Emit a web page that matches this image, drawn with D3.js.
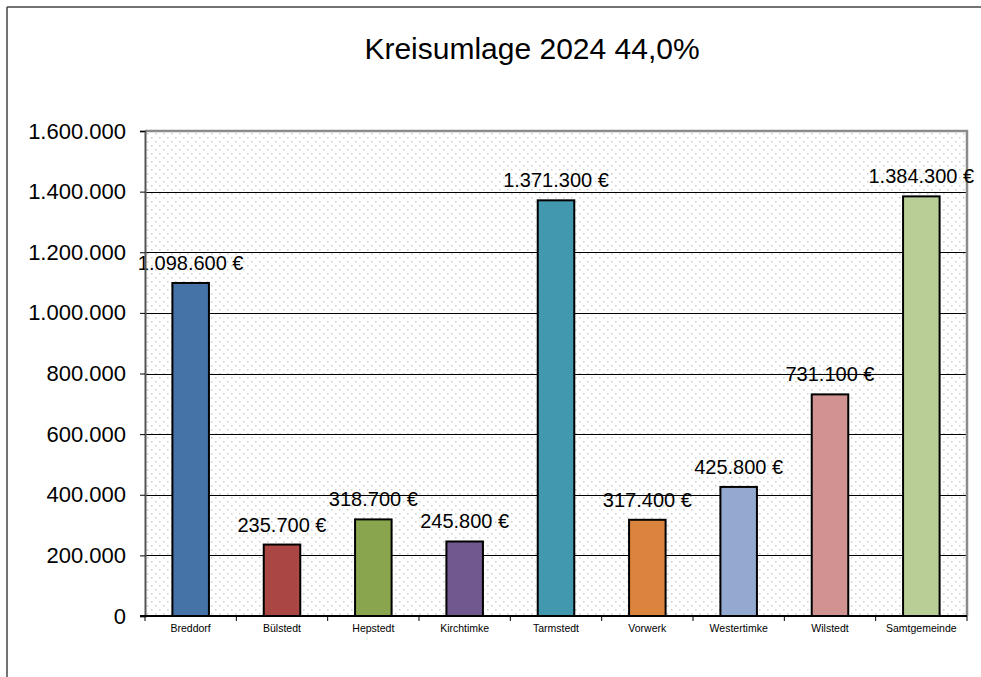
<!DOCTYPE html>
<html>
<head>
<meta charset="utf-8">
<script src="https://cdn.jsdelivr.net/npm/d3@7"></script>
<style>
  body { margin: 0; background: #fff; }
  svg { display: block; font-family: "Liberation Sans", Arial, sans-serif; }
</style>
</head>
<body>
<svg id="chart" width="981" height="677"></svg>
<script>
var categories = ["Breddorf", "Bülstedt", "Hepstedt", "Kirchtimke", "Tarmstedt", "Vorwerk", "Westertimke", "Wilstedt", "Samtgemeinde"];
var values = [1098600, 235700, 318700, 245800, 1371300, 317400, 425800, 731100, 1384300];
var colors = ["#4572A7", "#AA4643", "#89A54E", "#71588F", "#4198AF", "#DB843D", "#93A9CF", "#D19392", "#B9CD96"];
var yTicks = [0, 200000, 400000, 600000, 800000, 1000000, 1200000, 1400000, 1600000];
var title = "Kreisumlage 2024 44,0%";

var svg = d3.select("#chart");
var plot = { left: 145, right: 967, top: 131, bottom: 616 };

// german number format: 1.234.567
var fmt = d3.formatLocale({ decimal: ",", thousands: ".", grouping: [3], currency: ["", " €"] }).format(",.0f");

// outer frame (only top and left are visible)
svg.append("line").attr("x1", 7).attr("y1", 7).attr("x2", 981).attr("y2", 7)
  .style("stroke", "#444").style("stroke-width", 1.5);
svg.append("line").attr("x1", 7).attr("y1", 7).attr("x2", 7).attr("y2", 677)
  .style("stroke", "#444").style("stroke-width", 1.5);

// dotted background pattern
var defs = svg.append("defs");
var pat = defs.append("pattern").attr("id", "dots")
  .attr("patternUnits", "userSpaceOnUse")
  .attr("x", plot.left).attr("y", plot.top)
  .attr("width", 8).attr("height", 8);
pat.append("rect").attr("width", 8).attr("height", 8).attr("fill", "#fff");
pat.append("rect").attr("x", 2).attr("y", 2).attr("width", 1.5).attr("height", 1.5).attr("fill", "#cdcdcd");
pat.append("rect").attr("x", 6).attr("y", 6).attr("width", 1.5).attr("height", 1.5).attr("fill", "#cdcdcd");

var x = d3.scaleBand().domain(categories).range([plot.left, plot.right]).paddingInner(0.6).paddingOuter(0.3);
var xb = d3.scaleBand().domain(categories).range([plot.left, plot.right]);
var y = d3.scaleLinear().domain([0, 1600000]).range([plot.bottom, plot.top]);

svg.append("rect")
  .attr("x", plot.left).attr("y", plot.top)
  .attr("width", plot.right - plot.left).attr("height", plot.bottom - plot.top)
  .attr("fill", "url(#dots)");

// gridlines
svg.append("g").selectAll("line")
  .data(yTicks.filter(function (t) { return t > 0 && t < 1600000; }))
  .enter().append("line")
  .attr("x1", plot.left).attr("x2", plot.right)
  .attr("y1", function (t) { return Math.round(y(t)) + 0.5; })
  .attr("y2", function (t) { return Math.round(y(t)) + 0.5; })
  .style("stroke", "#000").style("stroke-width", 1);

// plot border: top and right in gray
svg.append("path")
  .attr("d", "M" + plot.left + "," + plot.top + "H" + plot.right + "V" + plot.bottom)
  .attr("fill", "none").style("stroke", "#8c8c8c").style("stroke-width", 2.5);

// bars
svg.append("g").selectAll("rect")
  .data(values)
  .enter().append("rect")
  .attr("x", function (d, i) { return x(categories[i]); })
  .attr("y", function (d) { return y(d); })
  .attr("width", x.bandwidth())
  .attr("height", function (d) { return plot.bottom - y(d); })
  .attr("fill", function (d, i) { return colors[i]; })
  .style("stroke", "#000").style("stroke-width", 2);

// value labels
svg.append("g").selectAll("text")
  .data(values)
  .enter().append("text")
  .attr("x", function (d, i) { return x(categories[i]) + x.bandwidth() / 2; })
  .attr("y", function (d) { return y(d) - 13; })
  .attr("text-anchor", "middle")
  .style("font-size", "20px").style("fill", "#000")
  .text(function (d) { return fmt(d) + " €"; });

// y axis
var yAxis = svg.append("g")
  .attr("transform", "translate(" + plot.left + ",0)")
  .call(d3.axisLeft(y).tickValues(yTicks).tickSize(5).tickPadding(14).tickFormat(fmt));
yAxis.select(".domain").style("stroke", "#555").style("stroke-width", 2);
yAxis.selectAll(".tick line").style("stroke", "#000");
yAxis.selectAll("text").style("font-size", "22px").style("fill", "#000")
  .style("font-family", "\"Liberation Sans\", Arial, sans-serif");

// x axis with ticks on category boundaries
var xAxis = svg.append("g").attr("transform", "translate(0," + plot.bottom + ")");
xAxis.append("line").attr("x1", plot.left - 5).attr("x2", plot.right)
  .style("stroke", "#000").style("stroke-width", 2);
xAxis.selectAll(".xtick")
  .data(categories.concat([null]))
  .enter().append("line").attr("class", "xtick")
  .attr("x1", function (c, i) { return plot.left + i * xb.bandwidth(); })
  .attr("x2", function (c, i) { return plot.left + i * xb.bandwidth(); })
  .attr("y1", 0).attr("y2", 5)
  .style("stroke", "#000");
xAxis.selectAll(".xlabel")
  .data(categories)
  .enter().append("text").attr("class", "xlabel")
  .attr("x", function (c) { return xb(c) + xb.bandwidth() / 2; })
  .attr("y", 16)
  .attr("text-anchor", "middle")
  .style("font-size", "10.5px").style("fill", "#000")
  .text(function (c) { return c; });

// title
svg.append("text")
  .attr("x", 532).attr("y", 59)
  .attr("text-anchor", "middle")
  .style("font-size", "30px").style("fill", "#000")
  .text(title);
</script>
</body>
</html>
